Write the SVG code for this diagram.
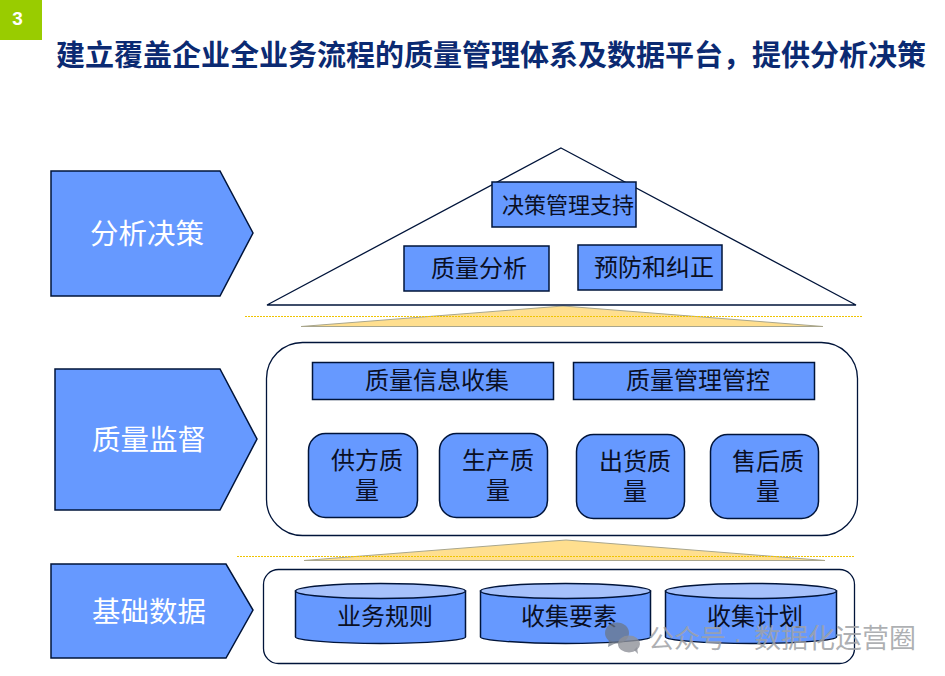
<svg xmlns="http://www.w3.org/2000/svg" width="945" height="676" viewBox="0 0 945 676">
<style>
text{font-family:"Liberation Sans","Noto Sans CJK SC",sans-serif;fill:#0a0f24;text-anchor:middle}
.b{fill:#6699ff;stroke:#00143a;stroke-width:1.5}
.o{fill:#fff;stroke:#00143a;stroke-width:1.3}
.t{fill:#ffdf8f;stroke:#a9a68c;stroke-width:1}
.d{stroke:#f0c400;stroke-width:1;stroke-dasharray:2 1;fill:none}
.c{fill:#a6c1fb;stroke:#00143a;stroke-width:1.5}
.s{font-size:24px}
.l{font-size:28.5px;fill:#fff}
</style>
<g id="badge"><rect x="0" y="0" width="42" height="40" fill="#99cc00"/><text x="17.500" y="25" style="font-size:19px;font-weight:bold;fill:#fff">3</text></g>
<text id="title" x="491" y="66" style="font-size:29px;font-weight:bold;fill:#0b2a72">建立覆盖企业全业务流程的质量管理体系及数据平台，提供分析决策</text>

<g id="label-decision"><path class="b" d="M51 171H220L253 233L220 296H51Z"/><text class="l" x="147" y="244">分析决策</text></g>
<g id="label-monitor"><path class="b" d="M55 369H220L257 439L220 510H55Z"/><text class="l" x="149" y="450">质量监督</text></g>
<g id="label-base"><path class="b" d="M51 564H226L253 610L226 658H51Z"/><text class="l" x="149" y="622">基础数据</text></g>

<g id="connectors">
<path class="t" d="M301 326.500L563 306L823 326.500Z"/>
<path class="d" d="M245 316.500H862"/>
<path class="t" d="M304 560.500L566 540L825 560.500Z"/>
<path class="d" d="M237 556.500H855"/>
</g>

<g id="pyramid"><path class="o" d="M561 148L856 305H267Z"/></g>
<g id="decision-support"><rect class="b" x="492" y="182" width="144" height="45"/><text x="568" y="213" style="font-size:22px">决策管理支持</text></g>
<g id="quality-analysis"><rect class="b" x="404" y="246" width="145" height="45"/><text class="s" x="479" y="277">质量分析</text></g>
<g id="prevention"><rect class="b" x="578" y="245" width="144" height="45"/><text class="s" x="654" y="276">预防和纠正</text></g>

<g id="monitor-panel"><rect class="o" x="266.500" y="342.500" width="591" height="193" rx="36"/></g>
<g id="info-collect"><rect class="b" x="312.500" y="362.500" width="241" height="37"/><text class="s" x="437" y="389">质量信息收集</text></g>
<g id="control"><rect class="b" x="573.500" y="362.500" width="241" height="37"/><text class="s" x="698" y="389">质量管理管控</text></g>
<g id="supplier"><rect class="b" x="308.500" y="433.500" width="109" height="84" rx="17"/><text class="s" x="367" y="469">供方质</text><text class="s" x="367" y="499">量</text></g>
<g id="production"><rect class="b" x="439.500" y="433.500" width="108" height="84" rx="17"/><text class="s" x="498" y="469">生产质</text><text class="s" x="498" y="499">量</text></g>
<g id="shipping"><rect class="b" x="576.500" y="434.500" width="108" height="84" rx="17"/><text class="s" x="635" y="470">出货质</text><text class="s" x="635" y="500">量</text></g>
<g id="aftersale"><rect class="b" x="710.500" y="434.500" width="108" height="84" rx="17"/><text class="s" x="768" y="470">售后质</text><text class="s" x="768" y="500">量</text></g>

<g id="base-panel"><rect class="o" x="263.500" y="569.500" width="591" height="94" rx="15"/></g>
<g id="rules"><path class="b" d="M295.500 591V637C295.500 640 333 643.500 380.500 643.500S465.500 640 465.500 637V591Z"/><ellipse class="c" cx="380.500" cy="591" rx="85" ry="7.500"/><text class="s" x="385" y="625">业务规则</text></g>
<g id="elements"><path class="b" d="M480.500 591V637C480.500 640 518 643.500 565.500 643.500S650.500 640 650.500 637V591Z"/><ellipse class="c" cx="565.500" cy="591" rx="85" ry="7.500"/><text class="s" x="569" y="625">收集要素</text></g>
<g id="plan"><path class="b" d="M665.500 591V637C665.500 640 703 643.500 751 643.500S836.500 640 836.500 637V591Z"/><ellipse class="c" cx="751" cy="591" rx="85.500" ry="7.500"/><text class="s" x="755" y="625">收集计划</text></g>

<g id="watermark">
<ellipse cx="617" cy="633" rx="12" ry="10.500" fill="#6b7380" opacity="0.7"/><path d="M609 640L608 647L616 643Z" fill="#6b7380" opacity="0.7"/>
<ellipse cx="629" cy="644" rx="11" ry="8.500" fill="#8e9198" opacity="0.8"/><path d="M634 650L638 654L637 647Z" fill="#8e9198" opacity="0.8"/>
<text x="648" y="648" style="font-size:26px;fill:#a0a2a6;fill-opacity:.85;text-anchor:start">公众号 · <tspan x="754" style="font-size:27px">数据化运营圈</tspan></text>
</g>
</svg>
